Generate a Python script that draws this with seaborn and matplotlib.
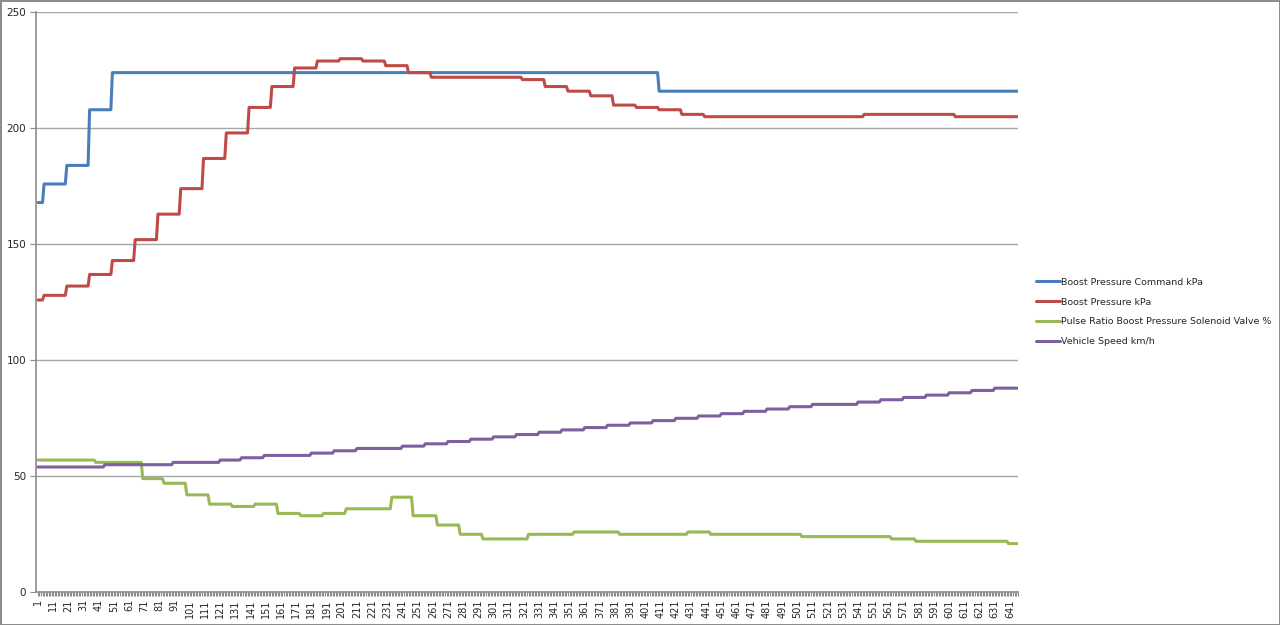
import numpy as np
import pandas as pd
import matplotlib
matplotlib.use('Agg')
from matplotlib import pyplot as plt
import seaborn as sns

n_samples = 646

# step starts (sample number) and values
cmd_start = [1, 5, 20, 35, 50, 410]
cmd_vals = [168, 176, 184, 208, 224, 216]

boost_start = [1, 5, 20, 35, 50, 65, 80, 95, 110, 125, 140, 155, 170, 185, 200, 215, 230,
               245, 260, 320, 335, 350, 365, 380, 395, 410, 425, 440, 545, 605]
boost_vals = [126, 128, 132, 137, 143, 152, 163, 174, 187, 198, 209, 218, 226, 229, 230, 229, 227,
              224, 222, 221, 218, 216, 214, 210, 209, 208, 206, 205, 206, 205]

pulse_start = [1, 39, 70, 84, 99, 114, 129, 144, 159, 174, 189, 204, 234, 248, 264, 279, 294,
               324, 354, 384, 429, 444, 504, 563, 579, 640]
pulse_vals = [57, 56, 49, 47, 42, 38, 37, 38, 34, 33, 34, 36, 41, 33, 29, 25, 23,
              25, 26, 25, 26, 25, 24, 23, 22, 21]

speed_start = [1, 45, 90, 121, 135, 150, 181, 196, 211, 241, 256, 271, 286, 301, 316, 331, 346,
               361, 376, 391, 406, 421, 436, 451, 466, 481, 496, 511, 541, 556, 571, 586, 601, 616, 631]
speed_vals = [54, 55, 56, 57, 58, 59, 60, 61, 62, 63, 64, 65, 66, 67, 68, 69, 70,
              71, 72, 73, 74, 75, 76, 77, 78, 79, 80, 81, 82, 83, 84, 85, 86, 87, 88]

series_names = ['Boost Pressure Command kPa', 'Boost Pressure kPa',
                'Pulse Ratio Boost Pressure Solenoid Valve %', 'Vehicle Speed km/h']
colors = ['#4A7EBB', '#BE4B48', '#98B954', '#7D60A0']


def expand(starts, vals):
    lengths = np.diff(starts + [n_samples + 1])
    return np.repeat(vals, lengths)


sample = np.arange(1, n_samples + 1)
frames = []
for name, st, vl in zip(series_names,
                        [cmd_start, boost_start, pulse_start, speed_start],
                        [cmd_vals, boost_vals, pulse_vals, speed_vals]):
    frames.append(pd.DataFrame({'sample': sample, 'value': expand(st, vl), 'series': name}))
df = pd.concat(frames, ignore_index=True)

sns.set_style('white')
plt.rcParams['font.family'] = ['DejaVu Sans']

fig = plt.figure(figsize=(12.8, 6.25), dpi=100)
fig.patch.set_edgecolor('#8c8c8c')
fig.patch.set_linewidth(2)
ax = fig.add_axes([36 / 1280, 1 - 592.3 / 625, (1018.3 - 36) / 1280, (592.3 - 12.3) / 625])

sns.lineplot(data=df, x='sample', y='value', hue='series', hue_order=series_names,
             palette=colors, linewidth=2.2, ax=ax, legend=True)

ax.set_xlim(-0.3, 646.5)
ax.set_ylim(0, 250)
ax.set_yticks(range(0, 251, 50))
ax.set_xticks(range(1, n_samples + 1, 10))
ax.set_xticks(range(1, n_samples + 1), minor=True)
ax.set_xticklabels([str(v) for v in range(1, n_samples + 1, 10)], rotation=90)
ax.tick_params(axis='x', which='both', length=3, width=0.8, color='#8c8c8c', labelsize=7, pad=2,
               bottom=True)
ax.tick_params(axis='y', length=4, width=0.8, color='#8c8c8c', labelsize=7.5, pad=3, left=True)
ax.yaxis.grid(True, color='#a6a6a6', linewidth=1)
ax.set_axisbelow(True)
for side in ['top', 'right']:
    ax.spines[side].set_visible(False)
for side in ['left', 'bottom']:
    ax.spines[side].set_color('#8c8c8c')
    ax.spines[side].set_linewidth(1.2)
ax.set_xlabel('')
ax.set_ylabel('')

handles, labels = ax.get_legend_handles_labels()
ax.legend(handles, labels, loc='center left', bbox_to_anchor=(1027 / 1280, 1 - 312 / 625),
          bbox_transform=fig.transFigure, frameon=False, fontsize=6.8, handlelength=2.6,
          handletextpad=0.1, labelspacing=1.15)

fig.savefig('out.png', dpi=100, edgecolor=fig.get_edgecolor())
